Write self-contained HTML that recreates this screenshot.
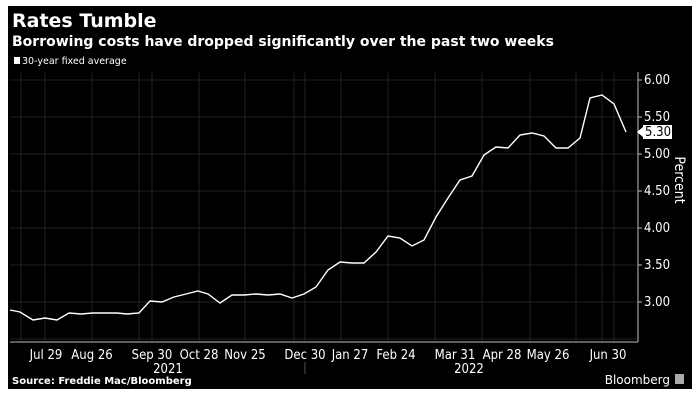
<!DOCTYPE html>
<html><head><meta charset="utf-8"><style>
html,body{margin:0;padding:0;background:#fff;width:700px;height:406px;overflow:hidden}
svg text{font-family:"DejaVu Sans","Liberation Sans",sans-serif;fill:#fff}
.c{font-family:"DejaVu Sans Condensed","DejaVu Sans","Liberation Sans",sans-serif}
</style></head><body>
<svg width="700" height="406" viewBox="0 0 700 406">
<rect x="8" y="6" width="684" height="383" fill="#000"/>
<text x="12" y="27" font-size="19" font-weight="bold">Rates Tumble</text>
<text x="12" y="46" font-size="14" font-weight="bold">Borrowing costs have dropped significantly over the past two weeks</text>
<rect x="14" y="57" width="6" height="7" fill="#fff"/>
<text x="22" y="64" font-size="9.5" font-family="Liberation Sans">30-year fixed average</text>
<g stroke="#2a2a2a" stroke-width="0.8">
<line x1="10" x2="638" y1="80" y2="80"/><line x1="10" x2="638" y1="117" y2="117"/>
<line x1="10" x2="638" y1="154" y2="154"/><line x1="10" x2="638" y1="191" y2="191"/>
<line x1="10" x2="638" y1="228" y2="228"/><line x1="10" x2="638" y1="265" y2="265"/>
<line x1="10" x2="638" y1="302" y2="302"/><line x1="10" x2="638" y1="339" y2="339"/>
<line x1="21" x2="21" y1="72" y2="342"/><line x1="45" x2="45" y1="72" y2="342"/>
<line x1="92" x2="92" y1="72" y2="342"/><line x1="139" x2="139" y1="72" y2="342"/>
<line x1="152" x2="152" y1="72" y2="342"/><line x1="199" x2="199" y1="72" y2="342"/>
<line x1="245" x2="245" y1="72" y2="342"/><line x1="294" x2="294" y1="72" y2="342"/>
<line x1="305" x2="305" y1="72" y2="342"/><line x1="341" x2="341" y1="72" y2="342"/>
<line x1="388" x2="388" y1="72" y2="342"/><line x1="435" x2="435" y1="72" y2="342"/>
<line x1="482" x2="482" y1="72" y2="342"/><line x1="530" x2="530" y1="72" y2="342"/>
<line x1="576" x2="576" y1="72" y2="342"/><line x1="602" x2="602" y1="72" y2="342"/>
<line x1="614" x2="614" y1="72" y2="342"/>
</g>
<line x1="10" x2="638" y1="342" y2="342" stroke="#bbb" stroke-width="1"/>
<line x1="638" x2="638" y1="72" y2="342" stroke="#bbb" stroke-width="1"/>
<g stroke="#bbb"><line x1="638" x2="642" y1="80" y2="80"/><line x1="638" x2="642" y1="117" y2="117"/><line x1="638" x2="642" y1="154" y2="154"/><line x1="638" x2="642" y1="191" y2="191"/><line x1="638" x2="642" y1="228" y2="228"/><line x1="638" x2="642" y1="265" y2="265"/><line x1="638" x2="642" y1="302" y2="302"/></g>
<g font-size="13" class="c">
<text x="644" y="84" class="c">6.00</text><text x="644" y="121" class="c">5.50</text><text x="644" y="158" class="c">5.00</text>
<text x="644" y="195" class="c">4.50</text><text x="644" y="232" class="c">4.00</text><text x="644" y="269" class="c">3.50</text><text x="644" y="306" class="c">3.00</text>
</g>
<rect x="643" y="125" width="29" height="14" fill="#fff"/>
<polygon points="637,132 643,127 643,137" fill="#fff"/>
<text x="645" y="136" font-size="13" class="c" style="fill:#000">5.30</text>
<text transform="translate(675,180) rotate(90)" font-size="14" text-anchor="middle" class="c">Percent</text>
<polyline fill="none" stroke="#fff" stroke-width="1.4" points="10,310 20,312 33,320 45,318 57,320 69,313 81,314 93,313 105,313 117,313 127,314 139,313 150,301 162,302 174,297 186,294 198,291 208,294 220,303 232,295 244,295 256,294 268,295 280,294 292,298 304,294 316,287 328,270 340,262 352,263 364,263 376,252 388,236 400,238 412,246 424,240 436,217 448,198 460,180 472,176 484,155 496,147 508,148 520,135 532,133 544,136 556,148 568,148 580,138 590,98 602,95 614,104 626,132"/>
<g font-size="13" text-anchor="middle">
<text x="46" y="359" class="c">Jul 29</text><text x="92" y="359" class="c">Aug 26</text><text x="152" y="359" class="c">Sep 30</text>
<text x="199" y="359" class="c">Oct 28</text><text x="245" y="359" class="c">Nov 25</text><text x="305" y="359" class="c">Dec 30</text>
<text x="350" y="359" class="c">Jan 27</text><text x="396" y="359" class="c">Feb 24</text><text x="455" y="359" class="c">Mar 31</text>
<text x="502" y="359" class="c">Apr 28</text><text x="548" y="359" class="c">May 26</text><text x="608" y="359" class="c">Jun 30</text>
<text x="168" y="373" class="c">2021</text><text x="469" y="373" class="c">2022</text>
</g>
<line x1="305" x2="305" y1="362" y2="374" stroke="#555"/>
<text x="12" y="384" font-size="10" font-weight="bold" font-family="Liberation Sans">Source: Freddie Mac/Bloomberg</text>
<text x="670" y="384" font-size="12" text-anchor="end" font-family="Liberation Sans">Bloomberg</text>
<rect x="675" y="374" width="9" height="10" fill="#aaa"/>
</svg>
</body></html>
